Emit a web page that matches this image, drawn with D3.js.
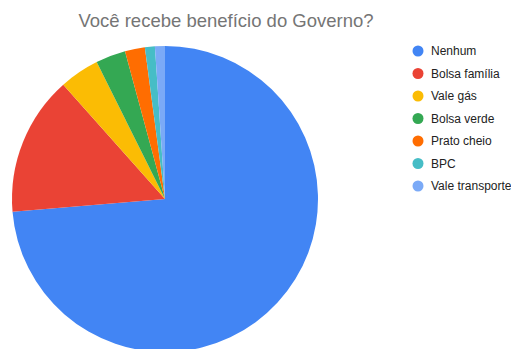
<!DOCTYPE html>
<html>
<head>
<meta charset="utf-8">
<script src="https://cdn.jsdelivr.net/npm/d3@7"></script>
<style>
  body { margin: 0; background: #fff; }
  svg { display: block; font-family: Arial, "Liberation Sans", sans-serif; }
</style>
</head>
<body>
<script>
const width = 511
const height = 349

const title = "Você recebe benefício do Governo?"
const categories = ["Nenhum", "Bolsa família", "Vale gás", "Bolsa verde", "Prato cheio", "BPC", "Vale transporte"]
const values = [70, 14, 4, 3, 2, 1, 1]
const colors = ["#4285f4", "#ea4335", "#fbbc04", "#34a853", "#ff6d01", "#46bdc6", "#7baaf7"]

const cx = 165, cy = 199, radius = 153

const svg = d3.select("body").append("svg")
    .attr("width", width)
    .attr("height", height)

svg.append("text")
    .attr("x", 226)
    .attr("y", 27)
    .attr("text-anchor", "middle")
    .attr("fill", "#757575")
    .style("font-size", "18.5px")
    .text(title)

const color = d3.scaleOrdinal().domain(categories).range(colors)

const pie = d3.pie().sort(null).value(d => d.v)
const arc = d3.arc().innerRadius(0).outerRadius(radius)

const data = categories.map((c, i) => ({c: c, v: values[i]}))

svg.append("g")
    .attr("transform", `translate(${cx},${cy})`)
  .selectAll("path")
  .data(pie(data))
  .join("path")
    .attr("d", arc)
    .attr("fill", d => color(d.data.c))

const legendY = d3.scalePoint().domain(categories).range([51, 186])

const leg = svg.append("g")
  .selectAll("g")
  .data(categories)
  .join("g")
    .attr("transform", d => `translate(418,${legendY(d)})`)

leg.append("circle")
    .attr("r", 5.5)
    .attr("fill", d => color(d))

leg.append("text")
    .attr("x", 13)
    .attr("dy", "0.35em")
    .attr("fill", "#222")
    .style("font-size", "12px")
    .text(d => d)
</script>
</body>
</html>
